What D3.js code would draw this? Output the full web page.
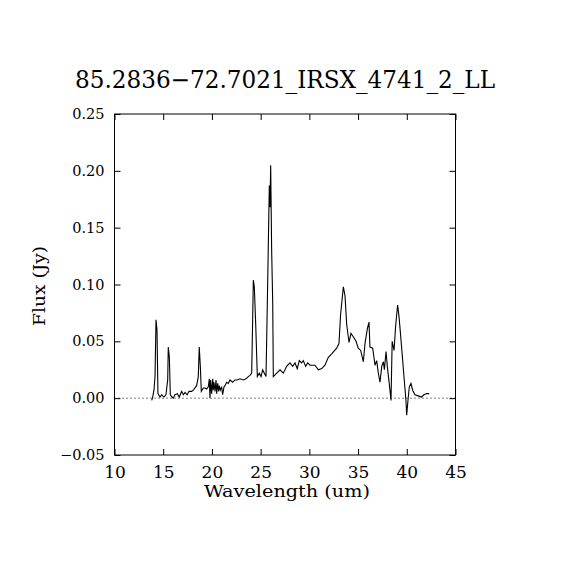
<!DOCTYPE html>
<html>
<head>
<meta charset="utf-8">
<script src="https://cdn.jsdelivr.net/npm/d3@7"></script>
<style>
  body { margin: 0; background: #fff; }
  text { font-family: "DejaVu Serif", "Liberation Serif", serif; fill: #000; }
</style>
</head>
<body>
<div id="chart"></div>
<script>
var titleText = "85.2836\u221272.7021_IRSX_4741_2_LL";
var xTicks = [10, 15, 20, 25, 30, 35, 40, 45];
var yTicks = [-0.05, 0.00, 0.05, 0.10, 0.15, 0.20, 0.25];

var wavelength = [13.82, 13.92, 14.05, 14.16, 14.26, 14.36, 14.46, 14.67, 14.84, 15.08,
  15.28, 15.46, 15.52, 15.63, 15.73, 15.90, 16.03, 16.21, 16.45, 16.65,
  16.90, 17.07, 17.24, 17.45, 17.65, 17.92, 18.09, 18.26, 18.43, 18.60,
  18.70, 18.81, 18.91, 19.12, 19.29, 19.46, 19.63, 19.73, 19.80, 19.87,
  19.97, 20.08, 20.14, 20.21, 20.32, 20.42, 20.49, 20.59, 20.69, 20.76,
  20.86, 21.00, 21.10, 21.24, 21.34, 21.51, 21.68, 21.85, 22.13, 22.37,
  22.60, 22.88, 23.22, 23.50, 23.73, 23.91, 24.08, 24.18, 24.25, 24.35,
  24.49, 24.66, 24.86, 25.04, 25.21, 25.38, 25.55, 25.68, 25.89, 25.96,
  26.03, 26.13, 26.24, 26.30, 26.65, 26.99, 27.33, 27.67, 28.01, 28.29,
  28.53, 28.76, 28.97, 29.21, 29.38, 29.62, 29.83, 30.07, 30.58, 30.92,
  31.27, 31.60, 31.95, 32.29, 32.80, 33.04, 33.21, 33.49, 33.66, 33.83,
  34.07, 34.27, 34.51, 34.79, 35.02, 35.27, 35.54, 35.71, 35.95, 36.12,
  36.22, 36.50, 36.74, 36.91, 37.08, 37.25, 37.43, 37.60, 37.70, 37.87,
  38.00, 38.20, 38.38, 38.50, 38.69, 38.86, 39.06, 39.20, 39.37, 39.58,
  39.71, 39.92, 39.99, 40.12, 40.26, 40.43, 40.60, 40.84, 41.18, 41.50,
  41.77, 42.04, 42.30];

var flux = [-0.002, 0.001, 0.007, 0.019, 0.069, 0.060, 0.004, 0.001, 0.003, 0.001,
  0.003, 0.016, 0.045, 0.036, 0.003, 0.001, 0.000, 0.003, 0.004, 0.001,
  0.006, 0.003, 0.005, 0.003, 0.006, 0.006, 0.007, 0.009, 0.011, 0.019,
  0.045, 0.028, 0.006, 0.009, 0.009, 0.008, 0.010, 0.017, 0.000, 0.016,
  0.004, 0.017, 0.007, 0.014, 0.006, 0.016, 0.004, 0.013, 0.006, 0.011,
  0.007, 0.010, 0.003, 0.010, 0.011, 0.014, 0.013, 0.016, 0.014, 0.016,
  0.016, 0.017, 0.016, 0.017, 0.019, 0.020, 0.022, 0.069, 0.104, 0.098,
  0.066, 0.019, 0.022, 0.019, 0.025, 0.022, 0.019, 0.080, 0.187, 0.168,
  0.205, 0.130, 0.083, 0.019, 0.022, 0.025, 0.022, 0.028, 0.031, 0.028,
  0.031, 0.026, 0.033, 0.031, 0.033, 0.028, 0.031, 0.029, 0.029, 0.025,
  0.026, 0.029, 0.036, 0.039, 0.044, 0.048, 0.074, 0.098, 0.090, 0.065,
  0.049, 0.057, 0.054, 0.050, 0.044, 0.042, 0.032, 0.048, 0.061, 0.067,
  0.045, 0.044, 0.029, 0.033, 0.022, 0.014, 0.028, 0.032, 0.025, 0.041,
  0.028, 0.013, -0.002, 0.050, 0.042, 0.064, 0.082, 0.072, 0.055, 0.033,
  0.019, -0.003, -0.015, -0.002, 0.010, 0.013, 0.007, 0.003, 0.002, 0.001,
  0.003, 0.004, 0.004];

var w = 570, h = 570;
var padL = 114.5, padR = 455.5, padT = 114, padB = 455;

var svg = d3.select("#chart")
    .append("svg")
    .attr("width", w)
    .attr("height", h);

var x = d3.scaleLinear().domain([10, 45]).range([padL, padR]);
var y = d3.scaleLinear().domain([-0.05, 0.25]).range([padB, padT]);

// ticks on all four sides, pointing in
svg.append("g")
    .attr("transform", "translate(0," + padB + ")")
    .call(d3.axisBottom(x).tickValues(xTicks).tickSize(-6).tickPadding(9)
      .tickFormat(d3.format("d")))
    .call(function(g) {
      g.select(".domain").remove();
      g.selectAll("text").attr("font-size", 17).attr("dy", "0.85em")
        .style("font-family", "'DejaVu Serif', serif");
    });

svg.append("g")
    .attr("transform", "translate(0," + padT + ")")
    .call(d3.axisTop(x).tickValues(xTicks).tickSize(-6).tickFormat(""))
    .call(function(g) { g.select(".domain").remove(); });

svg.append("g")
    .attr("transform", "translate(" + padL + ",0)")
    .call(d3.axisLeft(y).tickValues(yTicks).tickSize(-6).tickPadding(10)
      .tickFormat(function(d) { return d3.format(".2f")(d).replace("-", "\u2212"); }))
    .call(function(g) {
      g.select(".domain").remove();
      g.selectAll("text").attr("font-size", 14.5)
        .style("font-family", "'DejaVu Serif', serif");
    });

svg.append("g")
    .attr("transform", "translate(" + padR + ",0)")
    .call(d3.axisRight(y).tickValues(yTicks).tickSize(-6).tickFormat(""))
    .call(function(g) { g.select(".domain").remove(); });

svg.selectAll(".tick line").attr("stroke", "#000").attr("stroke-width", 1);

// frame
svg.append("rect")
    .attr("x", padL)
    .attr("y", padT)
    .attr("width", padR - padL)
    .attr("height", padB - padT)
    .attr("fill", "none")
    .attr("stroke", "#000")
    .attr("stroke-width", 1);

// zero line
svg.append("line")
    .attr("x1", padL)
    .attr("x2", padR)
    .attr("y1", y(0))
    .attr("y2", y(0))
    .attr("stroke", "#000")
    .attr("stroke-width", 1)
    .attr("stroke-dasharray", "1,3");

var line = d3.line()
    .x(function(d, i) { return x(wavelength[i]); })
    .y(function(d) { return y(d); });

svg.append("path")
    .datum(flux)
    .attr("d", line)
    .attr("fill", "none")
    .attr("stroke", "#000")
    .attr("stroke-width", 1.1);

svg.append("text")
    .attr("x", 285)
    .attr("y", 88)
    .attr("text-anchor", "middle")
    .attr("font-size", 24)
    .attr("textLength", 420)
    .attr("lengthAdjust", "spacingAndGlyphs")
    .text(titleText);

svg.append("text")
    .attr("x", 287)
    .attr("y", 497)
    .attr("text-anchor", "middle")
    .attr("font-size", 17)
    .attr("textLength", 166)
    .attr("lengthAdjust", "spacingAndGlyphs")
    .text("Wavelength (um)");

svg.append("text")
    .attr("transform", "translate(45,286) rotate(-90)")
    .attr("text-anchor", "middle")
    .attr("font-size", 17)
    .attr("textLength", 80)
    .attr("lengthAdjust", "spacingAndGlyphs")
    .text("Flux (Jy)");
</script>
</body>
</html>
